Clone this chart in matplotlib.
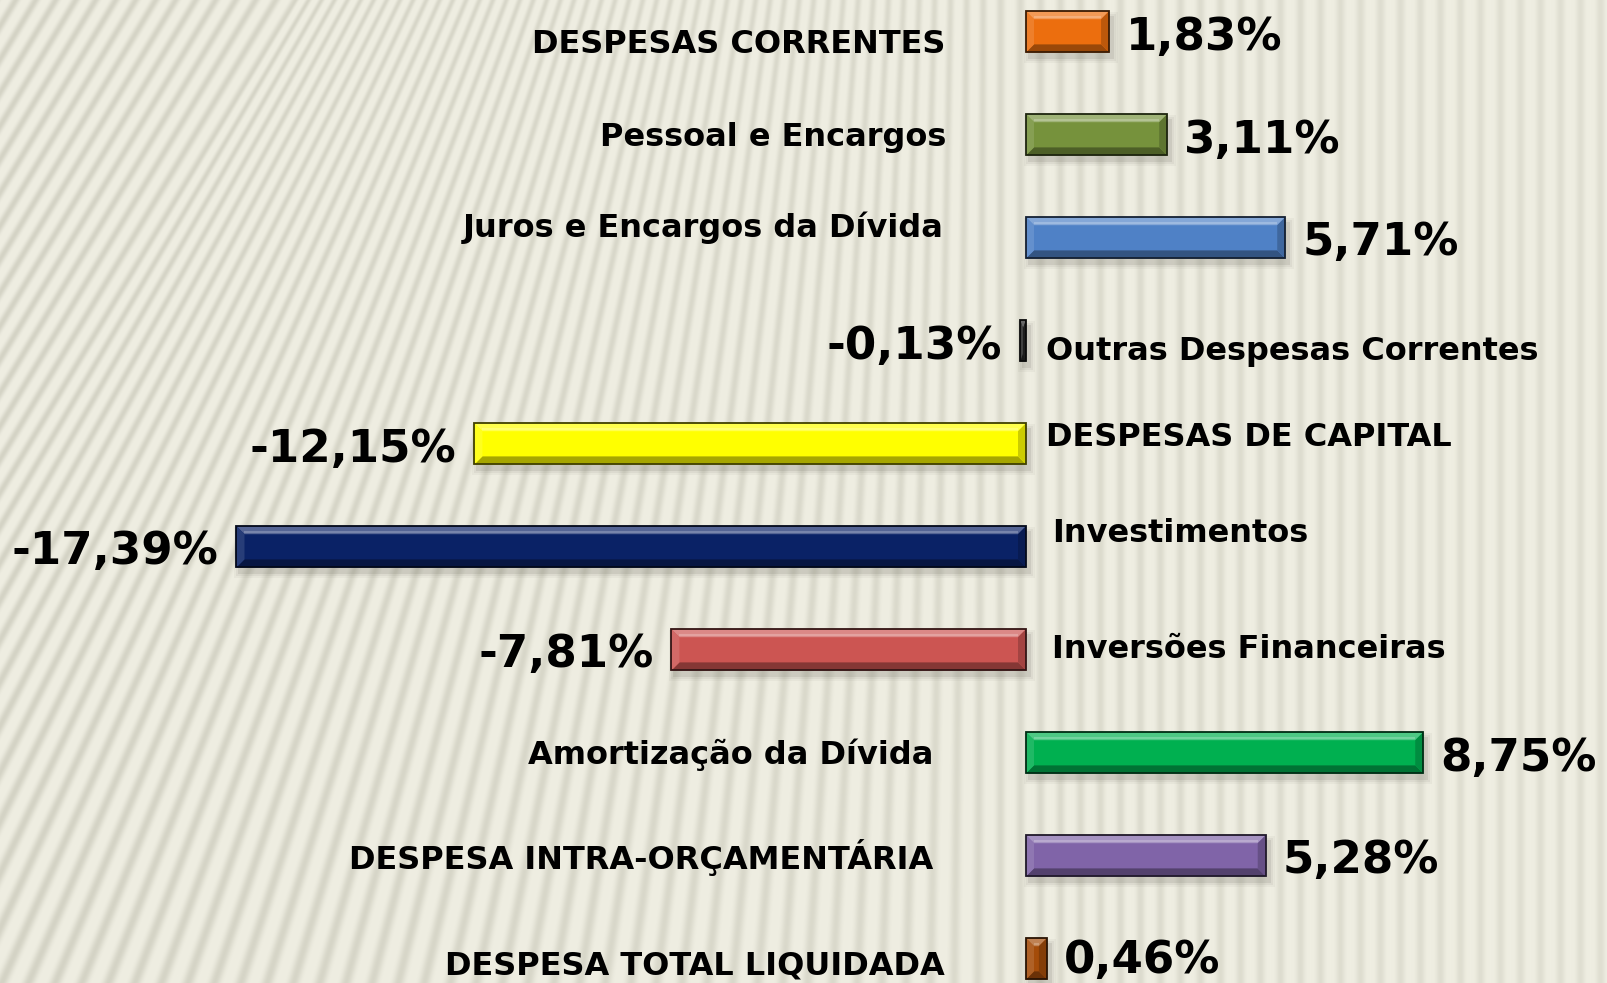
import numpy as np
import matplotlib
matplotlib.use("Agg")
import matplotlib.pyplot as plt
from matplotlib.patches import Polygon
from matplotlib.colors import to_rgb

# dados (variação % da despesa)
categories = ["DESPESAS CORRENTES", "Pessoal e Encargos", "Juros e Encargos da Dívida",
              "Outras Despesas Correntes", "DESPESAS DE CAPITAL", "Investimentos",
              "Inversões Financeiras", "Amortização da Dívida",
              "DESPESA INTRA-ORÇAMENTÁRIA", "DESPESA TOTAL LIQUIDADA"]
values = [1.83, 3.11, 5.71, -0.13, -12.15, -17.39, -7.81, 8.75, 5.28, 0.46]
value_labels = ["1,83%", "3,11%", "5,71%", "-0,13%", "-12,15%", "-17,39%",
                "-7,81%", "8,75%", "5,28%", "0,46%"]
bar_colors = ["#EC6E0E", "#76923C", "#4F81C6", "#262626", "#FFFF00", "#0A2266",
              "#CC5552", "#00B050", "#8064A8", "#A44C0A"]

# ajustes manuais de posição dos rótulos (pixels)
label_dx = [-81, -80, -82, 20, 20, 26, 26, -93, -93, -81]
label_dy = [9, -1, -13, 7, -10, -17, -4, -1, 1, 4]
value_dy = [2, 2, 1, 2, 2, 1, 1, 2, 1, -2]

W, H = 1607, 983
fig = plt.figure(figsize=(W / 100, H / 100), dpi=100)

# fundo bege com listras: inclinadas à esquerda, quase verticais à direita
yy, xx = np.mgrid[0:H, 0:W].astype(float)
u = xx.copy()
for _ in range(25):
    s = 0.6 * np.clip(1 - u / 1000.0, 0, 1) ** 1.2
    u = xx - s * (H / 2 - yy)
phase = u / 20.0 * 2 * np.pi
stripe = (0.5 + 0.5 * np.cos(phase)) ** 2
fade = np.clip(0.55 + 0.45 * (1 - xx / W), 0, 1)
stripe = stripe * fade
base = np.array([239, 238, 226]) / 255.0
dark = np.array([212, 211, 197]) / 255.0
img = base[None, None, :] * (1 - stripe[..., None]) + dark[None, None, :] * stripe[..., None]
bg = fig.add_axes([0, 0, 1, 1])
bg.imshow(img, aspect="auto", extent=(0, 1, 0, 1), interpolation="bilinear")
bg.axis("off")

ax = fig.add_axes([0, 0, 1, 1])
ax.patch.set_alpha(0)
ax.set_xlim(-1026 / 45.4, (W - 1026) / 45.4)
ax.set_ylim((H - 31.8) / 103.0, -31.8 / 103.0)
ax.axis("off")

pos = np.arange(len(categories))
bars = ax.barh(pos, values, height=0.4, color="none", edgecolor="none")


def mix(c, other, t):
    c = np.array(to_rgb(c))
    return tuple(c * (1 - t) + np.array(other) * t)


def draw_bevel(rect, color, b=8):
    to_px = ax.transData
    to_data = ax.transData.inverted()
    x, y, w, h = rect.get_x(), rect.get_y(), rect.get_width(), rect.get_height()
    (xa, ya), (xb, yb) = to_px.transform([(x, y), (x + w, y + h)])
    x0, x1 = sorted([xa, xb])
    y0, y1 = sorted([ya, yb])
    bx = min(b, (x1 - x0) / 2)
    by = min(b, (y1 - y0) / 2)

    def poly(pts, fc, **kw):
        ax.add_patch(Polygon(to_data.transform(pts), closed=True, facecolor=fc,
                             edgecolor="none", **kw))

    # sombra
    for k, a in [(5, 0.05), (3, 0.07), (1, 0.12)]:
        sx0, sx1 = x0 + 3 - k, x1 + 4 + k
        sy0, sy1 = y0 - 6 - k, y1 - 6 + k
        poly([(sx0, sy0), (sx1, sy0), (sx1, sy1), (sx0, sy1)], (0.35, 0.34, 0.3), alpha=a)

    BL, BR, TR, TL = (x0, y0), (x1, y0), (x1, y1), (x0, y1)
    iBL, iBR = (x0 + bx, y0 + by), (x1 - bx, y0 + by)
    iTR, iTL = (x1 - bx, y1 - by), (x0 + bx, y1 - by)
    white, black = (1, 1, 1), (0, 0, 0)
    poly([BL, BR, TR, TL], color)
    poly([TL, TR, iTR, iTL], mix(color, white, 0.3))
    poly([BL, BR, iBR, iBL], mix(color, black, 0.35))
    poly([BL, TL, iTL, iBL], mix(color, white, 0.12))
    poly([BR, TR, iTR, iBR], mix(color, black, 0.2))
    # brilho no topo
    hl = to_data.transform([(x0 + bx, y1 - by + 2), (x1 - bx, y1 - by + 2)])
    ax.plot(hl[:, 0], hl[:, 1], color=mix(color, white, 0.45), lw=1.5, solid_capstyle="butt")
    ax.add_patch(Polygon(to_data.transform([BL, BR, TR, TL]), closed=True, facecolor="none",
                         edgecolor=mix(color, black, 0.75), lw=1.3))


for rect, col in zip(bars, bar_colors):
    draw_bevel(rect, col)

font = "DejaVu Sans"
for i, (cat, v, vl) in enumerate(zip(categories, values, value_labels)):
    # rótulo da categoria
    ax.annotate(cat, (0, pos[i]), xytext=(label_dx[i], -(label_dy[i] + 12)),
                textcoords="offset pixels", ha="right" if v >= 0 else "left",
                va="baseline", fontsize=23, fontweight="bold", family=font, color="black")
    # valor
    ax.annotate(vl, (v, pos[i]), xytext=(17 if v >= 0 else -18, -(value_dy[i] + 16.5)),
                textcoords="offset pixels", ha="left" if v >= 0 else "right",
                va="baseline", fontsize=32.5, fontweight="bold", family=font, color="black")

fig.savefig("out.png", dpi=100)
